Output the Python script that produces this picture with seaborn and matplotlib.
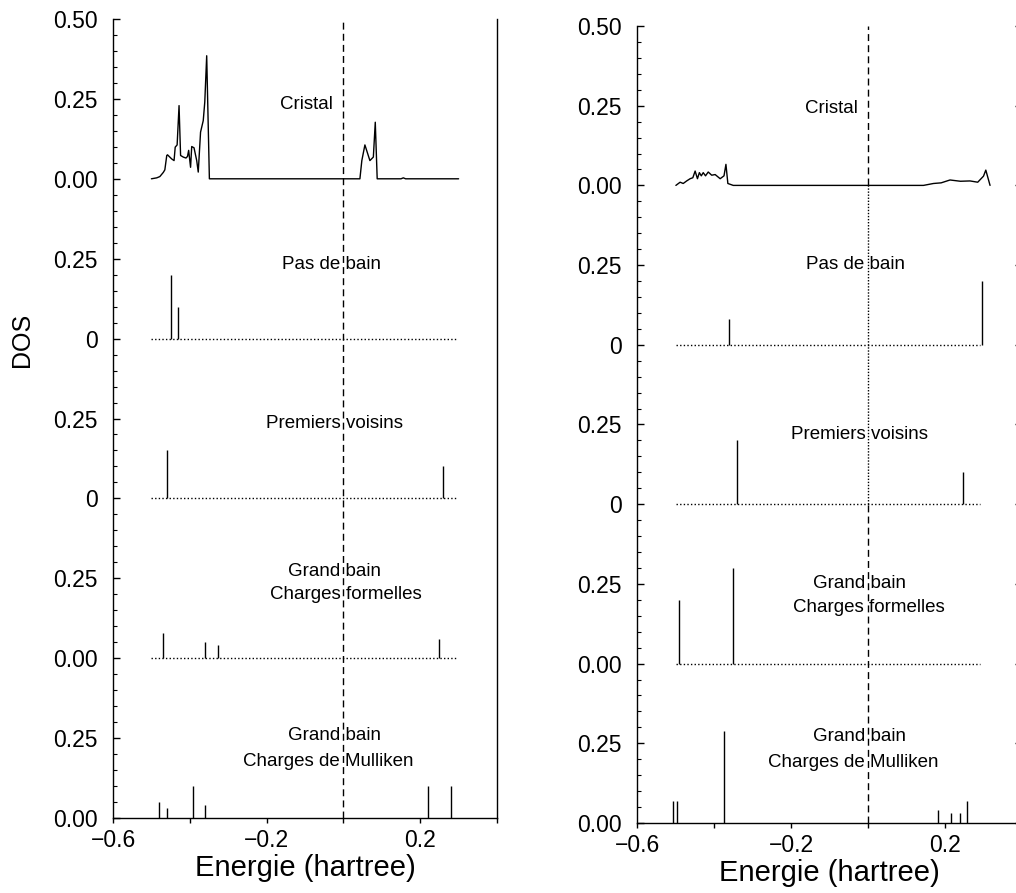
import numpy as np
import matplotlib
matplotlib.use('Agg')
import matplotlib.pyplot as plt
import seaborn as sns

# Cristal DOS curves (energy in hartree, DOS)
cristal_left_e = [-0.500, -0.486, -0.478, -0.469, -0.465, -0.460, -0.458, -0.447, -0.441, -0.438,
                  -0.433, -0.428, -0.424, -0.417, -0.410, -0.406, -0.403, -0.398, -0.395, -0.389,
                  -0.382, -0.378, -0.372, -0.365, -0.361, -0.356, -0.349, 0.043, 0.048, 0.056,
                  0.069, 0.078, 0.083, 0.088, 0.150, 0.156, 0.162, 0.300]
cristal_left_dos = [0.000, 0.003, 0.007, 0.020, 0.028, 0.073, 0.075, 0.062, 0.057, 0.099,
                    0.106, 0.229, 0.073, 0.068, 0.065, 0.070, 0.089, 0.036, 0.101, 0.097,
                    0.057, 0.021, 0.146, 0.182, 0.240, 0.385, 0.000, 0.000, 0.057, 0.106,
                    0.057, 0.068, 0.177, 0.000, 0.000, 0.003, 0.000, 0.000]

cristal_right_e = [-0.499, -0.488, -0.480, -0.471, -0.462, -0.455, -0.449, -0.443, -0.438, -0.433,
                   -0.428, -0.422, -0.415, -0.406, -0.397, -0.384, -0.374, -0.369, -0.364, -0.350,
                   0.144, 0.170, 0.190, 0.213, 0.240, 0.265, 0.285, 0.300, 0.306, 0.317]
cristal_right_dos = [0.000, 0.010, 0.006, 0.014, 0.021, 0.024, 0.045, 0.021, 0.040, 0.030,
                     0.040, 0.030, 0.042, 0.032, 0.034, 0.021, 0.030, 0.066, 0.006, 0.000,
                     0.000, 0.006, 0.008, 0.017, 0.013, 0.014, 0.010, 0.029, 0.048, 0.000]

# discrete levels (energy, height) for each cluster model
pas_bain_left_e = [-0.450, -0.430]
pas_bain_left_h = [0.20, 0.10]
voisins_left_e = [-0.459, 0.260]
voisins_left_h = [0.15, 0.10]
formelles_left_e = [-0.469, -0.360, -0.327, 0.250]
formelles_left_h = [0.08, 0.05, 0.04, 0.06]
mulliken_left_e = [-0.479, -0.459, -0.391, -0.360, 0.221, 0.279]
mulliken_left_h = [0.05, 0.03, 0.10, 0.04, 0.10, 0.10]

pas_bain_right_e = [-0.361, 0.297]
pas_bain_right_h = [0.08, 0.20]
voisins_right_e = [-0.340, 0.247]
voisins_right_h = [0.20, 0.10]
formelles_right_e = [-0.490, -0.351]
formelles_right_h = [0.20, 0.30]
mulliken_right_e = [-0.507, -0.495, -0.375, 0.182, 0.215, 0.239, 0.256]
mulliken_right_h = [0.07, 0.07, 0.29, 0.04, 0.03, 0.03, 0.07]

ytick_labels = ['0.00', '0.25', '0.00', '0.25', '0', '0.25', '0', '0.25', '0.00', '0.25', '0.50']
xtick_labels = ['\u22120.6', '', '\u22120.2', '', '0.2', '']

sns.set_style('ticks')
plt.rcParams['font.family'] = ['Liberation Sans', 'DejaVu Sans']
# plain black instead of seaborn's dark grey
plt.rcParams.update({'text.color': 'black', 'axes.labelcolor': 'black',
                     'xtick.color': 'black', 'ytick.color': 'black',
                     'axes.edgecolor': 'black'})

fig = plt.figure(figsize=(10.16, 8.93), dpi=100)
ax_l = fig.add_axes([113 / 1016, 75 / 893, 384 / 1016, 799 / 893])
ax_r = fig.add_axes([637 / 1016, 70 / 893, 385 / 1016, 797 / 893])

dotted = (0, (1, 1.6))


def draw_panel(ax, cr_e, cr_d, sections, base_end, labels):
    # cristal curve on top (offset 2.0)
    sns.lineplot(x=cr_e, y=np.array(cr_d) + 2.0, ax=ax, color='black', lw=1.0,
                 estimator=None, sort=False)
    for off, es, hs, base in sections:
        if base:
            ax.hlines(off, -0.5, base_end, colors='black', lw=1.0, linestyles=dotted)
        ax.vlines(es, off, off + np.array(hs), colors='black', lw=1.0)
    for x, y, s in labels:
        ax.text(x, y, s, ha='center', va='center', fontsize=13.5)

    ax.set_xlim(-0.6, 0.4)
    ax.set_ylim(0, 2.5)
    ax.set_xticks(np.arange(-0.6, 0.41, 0.2))
    ax.set_xticklabels(xtick_labels)
    ax.set_yticks(np.arange(0, 2.51, 0.25))
    ax.set_yticklabels(ytick_labels)
    ax.set_yticks(np.arange(0, 2.51, 0.05), minor=True)
    ax.tick_params(axis='y', which='major', direction='in', length=5, width=1,
                   labelsize=16.5, pad=11)
    ax.tick_params(axis='y', which='minor', direction='in', length=2.8, width=0.8)
    ax.tick_params(axis='x', which='major', direction='out', length=3.6, width=1,
                   labelsize=16.5, pad=4)
    ax.set_xlabel('Energie (hartree)', fontsize=21, labelpad=2)
    ax.set_ylabel('')
    for sp in ['left', 'bottom', 'right']:
        ax.spines[sp].set_linewidth(1.0)
    ax.spines['top'].set_visible(False)


draw_panel(ax_l, cristal_left_e, cristal_left_dos,
           [(1.5, pas_bain_left_e, pas_bain_left_h, True),
            (1.0, voisins_left_e, voisins_left_h, True),
            (0.5, formelles_left_e, formelles_left_h, True),
            (0.0, mulliken_left_e, mulliken_left_h, False)],
           0.293,
           [(-0.096, 2.233, 'Cristal'), (-0.030, 1.732, 'Pas de bain'),
            (-0.024, 1.234, 'Premiers voisins'), (-0.024, 0.771, 'Grand bain'),
            (0.006, 0.698, 'Charges formelles'), (-0.024, 0.257, 'Grand bain'),
            (-0.040, 0.177, 'Charges de Mulliken')])

draw_panel(ax_r, cristal_right_e, cristal_right_dos,
           [(1.5, pas_bain_right_e, pas_bain_right_h, True),
            (1.0, voisins_right_e, voisins_right_h, True),
            (0.5, formelles_right_e, formelles_right_h, True),
            (0.0, mulliken_right_e, mulliken_right_h, False)],
           0.291,
           [(-0.094, 2.240, 'Cristal'), (-0.032, 1.751, 'Pas de bain'),
            (-0.023, 1.218, 'Premiers voisins'), (-0.023, 0.752, 'Grand bain'),
            (0.003, 0.677, 'Charges formelles'), (-0.023, 0.270, 'Grand bain'),
            (-0.038, 0.191, 'Charges de Mulliken')])

# Fermi level
dash = (0, (5, 3))
ax_l.axvline(0.0, color='black', lw=1.0, linestyle=dash)
ax_r.axvline(0.0, ymin=0.8, ymax=1.0, color='black', lw=1.0, linestyle=dash)
ax_r.axvline(0.0, ymin=0.4, ymax=0.8, color='black', lw=1.0, linestyle=(0, (1, 1.2)))
ax_r.axvline(0.0, ymin=0.0, ymax=0.4, color='black', lw=1.0, linestyle=dash)

# right frame of the right panel carries major ticks
ax_r.tick_params(axis='y', which='major', right=True)

ax_l.set_ylabel('DOS', fontsize=18)
ax_l.yaxis.set_label_coords(-0.205, 0.598)

fig.savefig('out.png', dpi=100)
